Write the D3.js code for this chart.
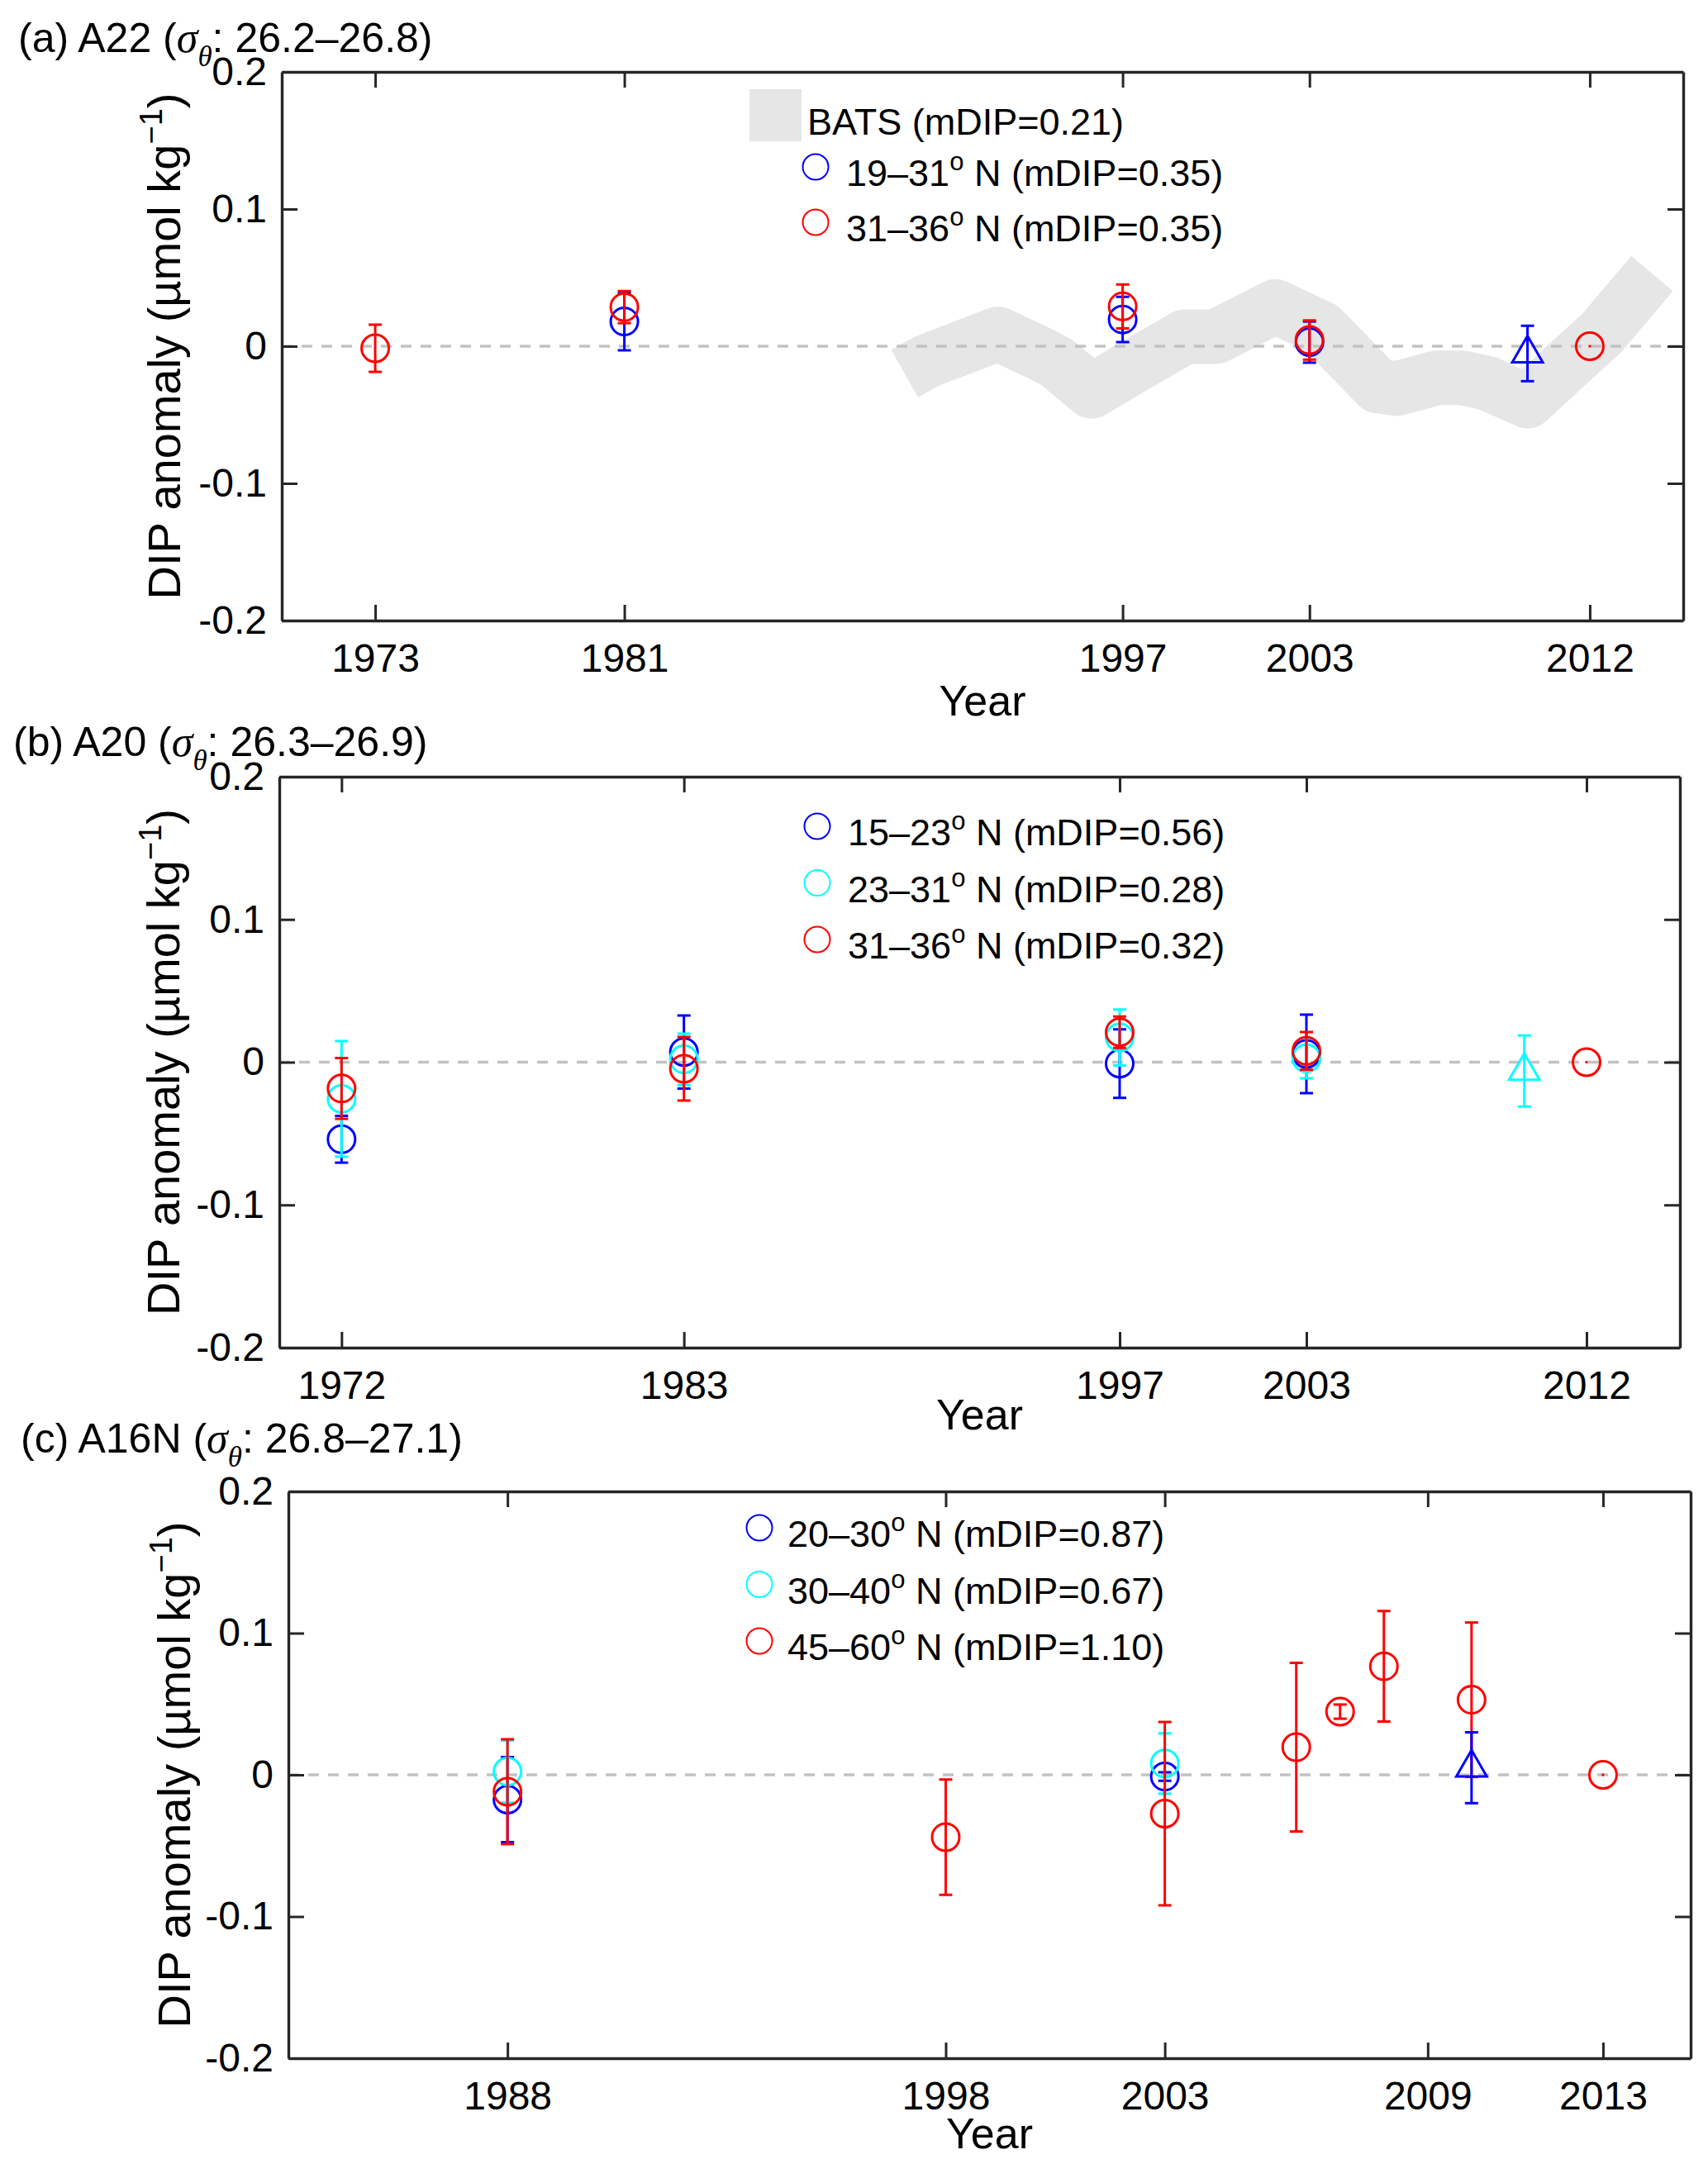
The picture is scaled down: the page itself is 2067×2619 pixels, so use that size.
<!DOCTYPE html>
<html>
<head>
<meta charset="utf-8">
<script src="https://cdn.jsdelivr.net/npm/d3@7"></script>
<style>
  body { margin: 0; background: #fff; }
  text { fill: #000; }
</style>
</head>
<body>
<svg id="fig" width="2067" height="2619"></svg>
<script>
var SANS = '"Liberation Sans", Arial, Helvetica, sans-serif';
var SERIF = '"Liberation Serif", "Times New Roman", serif';

// ---- panel (a) A22 ----
var aTicks = [1973, 1981, 1997, 2003, 2012];
var aBlueYears = [1981, 1997, 2003];
var aBlueVals = [0.018, 0.0195, 0.003];
var aBlueErr = [0.021, 0.0165, 0.015];
var aRedYears = [1973, 1981, 1997, 2003, 2012];
var aRedVals = [-0.0015, 0.0285, 0.029, 0.0045, 0];
var aRedErr = [0.0172, 0.0117, 0.016, 0.0143, 0];
var aTriYears = [2010];
var aTriVals = [-0.0053];
var aTriErr = [0.0202];
// BATS band (centre line)
var batsYears = [1990.0, 1990.7, 1993.0, 1994.4, 1994.9, 1996.0, 1997.1, 1999.0, 2000.0, 2001.9,
                 2003.4, 2005.2, 2005.8, 2007.1, 2007.9, 2008.7, 2010.0, 2012.4, 2014.0];
var batsVals = [-0.020, -0.011, 0.009, -0.006, -0.012, -0.033, -0.018, 0.007, 0.007, 0.029,
                0.013, -0.029, -0.031, -0.023, -0.023, -0.027, -0.040, 0.010, 0.053];
var aLegend = ["19–31", "31–36"];
var aLegendTail = [" N (mDIP=0.35)", " N (mDIP=0.35)"];

// ---- panel (b) A20 ----
var bTicks = [1972, 1983, 1997, 2003, 2012];
var bBlueYears = [1972, 1983, 1997, 2003];
var bBlueVals = [-0.054, 0.0071, -0.001, 0.0058];
var bBlueErr = [0.0164, 0.0256, 0.024, 0.0275];
var bCyanYears = [1972, 1983, 1997, 2003];
var bCyanVals = [-0.0257, 0.002, 0.0173, 0.0027];
var bCyanErr = [0.0405, 0.018, 0.0196, 0.014];
var bRedYears = [1972, 1983, 1997, 2003, 2012];
var bRedVals = [-0.0184, -0.0046, 0.021, 0.0079, 0];
var bRedErr = [0.0213, 0.0223, 0.011, 0.0132, 0];
var bTriYears = [2010];
var bTriVals = [-0.0062];
var bTriErr = [0.0249];
var bLegend = ["15–23", "23–31", "31–36"];
var bLegendTail = [" N (mDIP=0.56)", " N (mDIP=0.28)", " N (mDIP=0.32)"];

// ---- panel (c) A16N ----
var cTicks = [1988, 1998, 2003, 2009, 2013];
var cBlueYears = [1988, 2003];
var cBlueVals = [-0.0175, -0.0012];
var cBlueErr = [0.030, 0.003];
var cCyanYears = [1988, 2003];
var cCyanVals = [0.0023, 0.008];
var cCyanErr = [0.022, 0.0213];
var cRedYears = [1988, 1998, 2003, 2006, 2007, 2008, 2010, 2013];
var cRedVals = [-0.0119, -0.044, -0.0274, 0.0195, 0.0446, 0.0766, 0.053, 0];
var cRedErr = [0.037, 0.0407, 0.0647, 0.0595, 0.005, 0.039, 0.0545, 0];
var cTriYears = [2010];
var cTriVals = [0.005];
var cTriErr = [0.025];
var cLegend = ["20–30", "30–40", "45–60"];
var cLegendTail = [" N (mDIP=0.87)", " N (mDIP=0.67)", " N (mDIP=1.10)"];

var yTicks = [-0.2, -0.1, 0, 0.1, 0.2];
var BLUE = "#0000ff", CYAN = "#00ffff", RED = "#ff0000", AXIS = "#262626";

var svg = d3.select("#fig");
svg.append("rect").attr("width", 2067).attr("height", 2619).attr("fill", "#fff");

function drawPanel(p) {
  var x = d3.scaleLinear().domain(p.xDomain).range([p.left, p.right]);
  var y = d3.scaleLinear().domain([-0.2, 0.2]).range([p.bottom, p.top]);
  var g = svg.append("g");

  // BATS band as a thick grey line
  if (p.band) {
    var line = d3.line().x(d => x(d[0])).y(d => y(d[1]));
    g.append("path")
      .datum(d3.zip(p.band[0], p.band[1]))
      .attr("d", line)
      .attr("fill", "none")
      .attr("stroke", "#e6e6e6")
      .attr("stroke-width", 66)
      .attr("stroke-linejoin", "round");
  }

  // dashed zero line
  g.append("line")
    .attr("x1", p.left).attr("x2", p.right)
    .attr("y1", y(0)).attr("y2", y(0))
    .attr("stroke", "#c2c2c2").attr("stroke-width", 3.5)
    .attr("stroke-dasharray", "13 11");

  // error bar series
  p.series.forEach(s => {
    var pts = d3.zip(s.years, s.vals, s.errs);
    var sg = g.append("g").attr("stroke", s.color).attr("fill", "none").attr("stroke-width", 3);
    sg.selectAll("line.bar").data(pts).join("line").attr("class", "bar")
      .attr("x1", d => x(d[0])).attr("x2", d => x(d[0]))
      .attr("y1", d => y(d[1] - d[2])).attr("y2", d => y(d[1] + d[2]))
      .attr("stroke-linecap", d => d[2] === 0 ? "square" : "butt");
    sg.selectAll("line.capt").data(pts.filter(d => d[2] > 0)).join("line").attr("class", "capt")
      .attr("x1", d => x(d[0]) - 8).attr("x2", d => x(d[0]) + 8)
      .attr("y1", d => y(d[1] + d[2])).attr("y2", d => y(d[1] + d[2]));
    sg.selectAll("line.capb").data(pts.filter(d => d[2] > 0)).join("line").attr("class", "capb")
      .attr("x1", d => x(d[0]) - 8).attr("x2", d => x(d[0]) + 8)
      .attr("y1", d => y(d[1] - d[2])).attr("y2", d => y(d[1] - d[2]));
    if (s.marker === "tri") {
      sg.selectAll("path.mk").data(pts).join("path").attr("class", "mk")
        .attr("d", d3.symbol(d3.symbolTriangle, 590))
        .attr("transform", d => "translate(" + x(d[0]) + "," + y(d[1]) + ")");
    } else {
      sg.selectAll("circle.mk").data(pts).join("circle").attr("class", "mk")
        .attr("cx", d => x(d[0])).attr("cy", d => y(d[1])).attr("r", 16.5);
    }
  });

  // box axes with inward ticks
  function style(ax) {
    ax.attr("font-family", SANS).attr("font-size", 48);
    ax.select(".domain").attr("stroke", AXIS).attr("stroke-width", 3.4);
    ax.selectAll(".tick line").attr("stroke", AXIS).attr("stroke-width", 3);
    ax.selectAll(".tick text").attr("fill", "#000");
  }
  style(svg.append("g").attr("transform", "translate(0," + p.bottom + ")")
    .call(d3.axisBottom(x).tickValues(p.ticks).tickFormat(d3.format("d"))
      .tickSizeInner(-19).tickSizeOuter(0).tickPadding(28)));
  style(svg.append("g").attr("transform", "translate(0," + p.top + ")")
    .call(d3.axisTop(x).tickValues(p.ticks).tickFormat(() => "")
      .tickSizeInner(-19).tickSizeOuter(0)));
  style(svg.append("g").attr("transform", "translate(" + p.left + ",0)")
    .call(d3.axisLeft(y).tickValues(yTicks).tickFormat(d => d === 0 ? "0" : String(d))
      .tickSizeInner(-19).tickSizeOuter(0).tickPadding(18)));
  style(svg.append("g").attr("transform", "translate(" + p.right + ",0)")
    .call(d3.axisRight(y).tickValues(yTicks).tickFormat(() => "")
      .tickSizeInner(-19).tickSizeOuter(0)));

  // title with sigma_theta
  var t = svg.append("text").attr("x", p.titleX).attr("y", p.titleY)
    .attr("font-family", SANS).attr("font-size", 50);
  t.append("tspan").text(p.titlePre);
  t.append("tspan").attr("font-family", SERIF).attr("font-style", "italic").attr("font-size", 52).text("σ");
  t.append("tspan").attr("font-family", SERIF).attr("font-style", "italic").attr("font-size", 35).attr("dy", 17).text("θ");
  t.append("tspan").attr("dy", -17).text(p.titlePost);

  // y label
  var yl = svg.append("text")
    .attr("transform", "translate(" + p.ylabX + "," + (p.top + p.bottom) / 2 + ") rotate(-90)")
    .attr("text-anchor", "middle").attr("font-family", SANS).attr("font-size", 56);
  yl.append("tspan").text("DIP anomaly (µmol kg");
  yl.append("tspan").attr("font-size", 38).attr("dy", -22).text("−1");
  yl.append("tspan").attr("dy", 22).text(")");

  // x label
  svg.append("text").attr("x", (p.left + p.right) / 2).attr("y", p.yearY)
    .attr("text-anchor", "middle").attr("font-family", SANS).attr("font-size", 52).text("Year");

  // legend
  var lg = svg.append("g").attr("font-family", SANS).attr("font-size", 45);
  if (p.band) {
    lg.append("rect").attr("x", p.leg.swX).attr("y", p.leg.swY).attr("width", 63).attr("height", 63)
      .attr("fill", "#e6e6e6");
    lg.append("text").attr("x", p.leg.swTextX).attr("y", p.leg.swTextY).text("BATS (mDIP=0.21)");
  }
  p.leg.labels.forEach((lab, i) => {
    var cy = p.leg.y0 + i * p.leg.dy;
    lg.append("circle").attr("cx", p.leg.cx).attr("cy", cy).attr("r", 15.5)
      .attr("fill", "none").attr("stroke", p.leg.colors[i]).attr("stroke-width", 2);
    var tx = lg.append("text").attr("x", p.leg.tx).attr("y", cy + 23);
    tx.append("tspan").text(lab);
    tx.append("tspan").attr("font-size", 31).attr("dy", -19).text("o");
    tx.append("tspan").attr("dy", 19).text(p.leg.tails[i]);
  });
}

drawPanel({
  left: 341, right: 2037, top: 87, bottom: 751, xDomain: [1970, 2015], ticks: aTicks,
  band: [batsYears, batsVals],
  series: [
    { years: aBlueYears, vals: aBlueVals, errs: aBlueErr, color: BLUE, marker: "o" },
    { years: aRedYears, vals: aRedVals, errs: aRedErr, color: RED, marker: "o" },
    { years: aTriYears, vals: aTriVals, errs: aTriErr, color: BLUE, marker: "tri" }
  ],
  titleX: 22, titleY: 63, titlePre: "(a) A22 (", titlePost: ": 26.2–26.8)",
  ylabX: 218, yearY: 866,
  leg: { swX: 907, swY: 108, swTextX: 977, swTextY: 163, cx: 987, tx: 1024, y0: 202, dy: 67,
         labels: aLegend, tails: aLegendTail, colors: [BLUE, RED] }
});

drawPanel({
  left: 338, right: 2033, top: 940, bottom: 1631, xDomain: [1970, 2015], ticks: bTicks,
  series: [
    { years: bBlueYears, vals: bBlueVals, errs: bBlueErr, color: BLUE, marker: "o" },
    { years: bCyanYears, vals: bCyanVals, errs: bCyanErr, color: CYAN, marker: "o" },
    { years: bRedYears, vals: bRedVals, errs: bRedErr, color: RED, marker: "o" },
    { years: bTriYears, vals: bTriVals, errs: bTriErr, color: CYAN, marker: "tri" }
  ],
  titleX: 16, titleY: 915, titlePre: "(b) A20 (", titlePost: ": 26.3–26.9)",
  ylabX: 217, yearY: 1730,
  leg: { cx: 989, tx: 1026, y0: 1000, dy: 68.5,
         labels: bLegend, tails: bLegendTail, colors: [BLUE, CYAN, RED] }
});

drawPanel({
  left: 349, right: 2046, top: 1805, bottom: 2491, xDomain: [1983, 2015], ticks: cTicks,
  series: [
    { years: cBlueYears, vals: cBlueVals, errs: cBlueErr, color: BLUE, marker: "o" },
    { years: cCyanYears, vals: cCyanVals, errs: cCyanErr, color: CYAN, marker: "o" },
    { years: cRedYears, vals: cRedVals, errs: cRedErr, color: RED, marker: "o" },
    { years: cTriYears, vals: cTriVals, errs: cTriErr, color: BLUE, marker: "tri" }
  ],
  titleX: 25, titleY: 1758, titlePre: "(c) A16N (", titlePost: ": 26.8–27.1)",
  ylabX: 230, yearY: 2600,
  leg: { cx: 919, tx: 953, y0: 1849, dy: 68.5,
         labels: cLegend, tails: cLegendTail, colors: [BLUE, CYAN, RED] }
});
</script>
</body>
</html>
